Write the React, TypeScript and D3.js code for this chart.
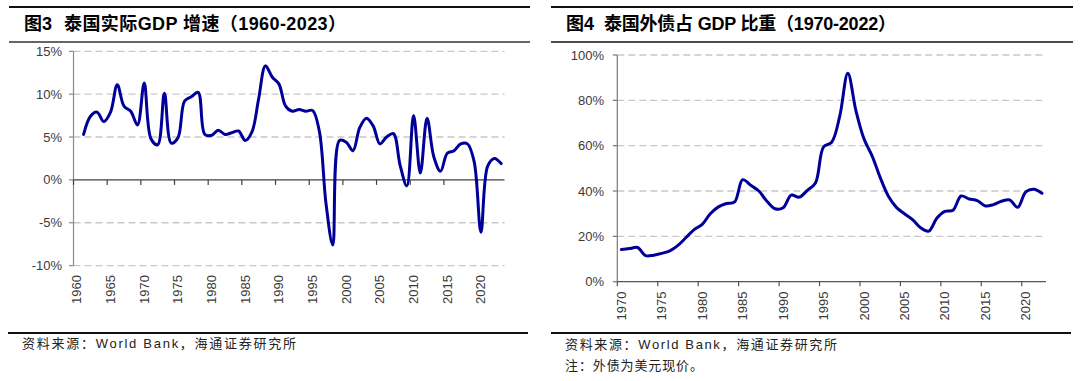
import React from "react";
import * as d3 from "d3";

// ---------- data ----------
const gdpYears: number[] = d3.range(1960, 2024);
const gdpGrowthYears: number[] = d3.range(1961, 2024);
const gdpGrowth: number[] = [
  5.3, 7.4, 7.9, 6.8, 7.9, 11.1, 8.6, 8.0, 6.4, 11.3,
  4.8, 4.1, 10.1, 4.3, 4.9, 9.2, 9.7, 10.2, 5.3, 5.2,
  5.8, 5.3, 5.5, 5.7, 4.6, 5.6, 9.5, 13.3, 12.0, 11.2,
  8.6, 8.0, 8.2, 8.0, 8.1, 5.7, -2.8, -7.6, 4.6, 4.4,
  3.4, 6.1, 7.2, 6.3, 4.2, 5.0, 5.4, 1.7, -0.7, 7.5,
  0.8, 7.2, 2.7, 1.0, 3.1, 3.4, 4.2, 4.2, 2.1, -6.1,
  1.6, 2.5, 1.9,
];
const gdpTicks: number[] = [-10, -5, 0, 5, 10, 15];

const debtYears: number[] = d3.range(1970, 2023);
const debtRatio: number[] = [
  14.2, 14.6, 15.1, 11.5, 11.7, 12.5, 13.6, 16.0, 19.5, 23.0,
  25.3, 30.0, 33.0, 34.5, 35.2, 45.0, 42.5, 40.0, 35.5, 32.2,
  32.6, 38.2, 37.3, 40.3, 43.5, 59.5, 61.5, 73.0, 92.0, 75.5,
  63.0, 55.5, 46.0, 37.8, 32.8, 30.0, 27.4, 23.8, 22.3, 28.0,
  31.0, 31.5, 37.8, 36.5, 35.8, 33.4, 34.0, 35.5, 36.1, 32.8,
  39.6, 40.8, 39.0,
];
const debtTicks: number[] = [0, 20, 40, 60, 80, 100];

const title1a = "图3";
const title1b = "泰国实际GDP 增速（1960-2023）";
const title2a = "图4";
const title2b = "泰国外债占 GDP 比重（1970-2022）";
const source = "资料来源：World Bank，海通证券研究所";
const note = "注：外债为美元现价。";

// ---------- style ----------
const FONT = "'Liberation Sans', Arial, 'Noto Sans CJK SC', sans-serif";
const LINE = "#000099";
const LABEL = "#3a3a3a";
const GRID = "#c8c8c8";

export default function App() {
  // Left chart scales
  const x1 = d3.scaleBand<number>().domain(gdpYears).range([73.5, 504.5]).padding(0);
  const y1 = d3.scaleLinear().domain([-10, 15]).range([265.6, 51.3]);
  const bw1 = x1.bandwidth();
  const line1 = d3
    .line<number>()
    .x((_, i) => (x1(gdpGrowthYears[i]) as number) + bw1 / 2)
    .y((d) => y1(d))
    .curve(d3.curveCatmullRom.alpha(0.5));

  // Right chart scales
  const x2 = d3.scaleBand<number>().domain(debtYears).range([617.3, 1046]).padding(0);
  const y2 = d3.scaleLinear().domain([0, 100]).range([281.7, 55]);
  const bw2 = x2.bandwidth();
  const line2 = d3
    .line<number>()
    .x((_, i) => (x2(debtYears[i]) as number) + bw2 / 2)
    .y((d) => y2(d))
    .curve(d3.curveCatmullRom.alpha(0.5));

  const x1Labels = gdpYears.filter((y) => y % 5 === 0);
  const x2Labels = debtYears.filter((y) => y % 5 === 0);

  return (
    <svg
      width={1080}
      height={381}
      style={{ position: "absolute", left: 0, top: 0, background: "#fff" }}
      fontFamily={FONT}
    >
      <rect x={0} y={0} width={1080} height={381} fill="#fff" />

      {/* ================= LEFT CHART ================= */}
      <line x1={9} x2={530} y1={7} y2={7} stroke="#111" strokeWidth={2} />
      <text x={24} y={30} fontSize={18} fontWeight="bold" fill="#000">
        {title1a}
      </text>
      <text x={64} y={30} fontSize={18} fontWeight="bold" fill="#000" textLength={282} lengthAdjust="spacing">
        {title1b}
      </text>
      <line x1={9} x2={530} y1={42} y2={42} stroke="#333" strokeWidth={1.5} />

      {/* gridlines */}
      {gdpTicks
        .filter((t) => t !== 0)
        .map((t) => (
          <line
            key={"g1" + t}
            x1={73.5}
            x2={504.5}
            y1={y1(t)}
            y2={y1(t)}
            stroke={GRID}
            strokeWidth={1.3}
            strokeDasharray="7,4"
          />
        ))}
      {/* y axis */}
      <line x1={73.5} x2={73.5} y1={y1(15)} y2={y1(-10)} stroke="#8a8a8a" strokeWidth={1.2} />
      {gdpTicks.map((t) => (
        <g key={"yt1" + t}>
          <line x1={69} x2={73.5} y1={y1(t)} y2={y1(t)} stroke="#8a8a8a" strokeWidth={1.2} />
          <text x={62} y={y1(t)} dy="0.35em" textAnchor="end" fontSize={13} fill={LABEL}>
            {t}%
          </text>
        </g>
      ))}
      {/* x axis at 0 */}
      <line x1={73.5} x2={504.5} y1={y1(0)} y2={y1(0)} stroke="#404040" strokeWidth={1.2} />
      {x1Labels.map((yr) => (
        <line
          key={"xt1" + yr}
          x1={x1(yr) as number}
          x2={x1(yr) as number}
          y1={y1(0)}
          y2={y1(0) + 5}
          stroke="#404040"
          strokeWidth={1.2}
        />
      ))}
      {x1Labels.map((yr) => (
        <text
          key={"xl1" + yr}
          transform={`translate(${(x1(yr) as number) + bw1 / 2},275) rotate(-90)`}
          dy="0.35em"
          textAnchor="end"
          fontSize={13}
          fill={LABEL}
        >
          {yr}
        </text>
      ))}
      <path d={line1(gdpGrowth) || ""} fill="none" stroke={LINE} strokeWidth={3} strokeLinejoin="round" strokeLinecap="round" />

      <line x1={8} x2={528} y1={333} y2={333} stroke="#111" strokeWidth={2} />
      <text x={22} y={348} fontSize={13} fill="#222" textLength={274} lengthAdjust="spacing">
        {source}
      </text>

      {/* ================= RIGHT CHART ================= */}
      <line x1={551} x2={1073} y1={7} y2={7} stroke="#111" strokeWidth={2} />
      <text x={566} y={30} fontSize={18} fontWeight="bold" fill="#000">
        {title2a}
      </text>
      <text x={604} y={30} fontSize={18} fontWeight="bold" fill="#000" textLength={292} lengthAdjust="spacing">
        {title2b}
      </text>
      <line x1={551} x2={1073} y1={42} y2={42} stroke="#111" strokeWidth={1.5} />

      {debtTicks
        .filter((t) => t !== 0)
        .map((t) => (
          <line
            key={"g2" + t}
            x1={617.3}
            x2={1046}
            y1={y2(t)}
            y2={y2(t)}
            stroke={GRID}
            strokeWidth={1.3}
            strokeDasharray="7,4"
          />
        ))}
      <line x1={617.3} x2={617.3} y1={y2(100)} y2={y2(0)} stroke="#7a7a7a" strokeWidth={1.2} />
      {debtTicks.map((t) => (
        <g key={"yt2" + t}>
          <line x1={612.8} x2={617.3} y1={y2(t)} y2={y2(t)} stroke="#7a7a7a" strokeWidth={1.2} />
          <text x={604} y={y2(t)} dy="0.35em" textAnchor="end" fontSize={13} fill={LABEL}>
            {t}%
          </text>
        </g>
      ))}
      <line x1={617.3} x2={1046} y1={y2(0)} y2={y2(0)} stroke="#555" strokeWidth={1.2} />
      {x2Labels.map((yr) => (
        <line
          key={"xt2" + yr}
          x1={x2(yr) as number}
          x2={x2(yr) as number}
          y1={y2(0)}
          y2={y2(0) + 4.5}
          stroke="#555"
          strokeWidth={1.2}
        />
      ))}
      {x2Labels.map((yr) => (
        <text
          key={"xl2" + yr}
          transform={`translate(${(x2(yr) as number) + bw2 / 2},291.5) rotate(-90)`}
          dy="0.35em"
          textAnchor="end"
          fontSize={13}
          fill={LABEL}
        >
          {yr}
        </text>
      ))}
      <path d={line2(debtRatio) || ""} fill="none" stroke={LINE} strokeWidth={3} strokeLinejoin="round" strokeLinecap="round" />

      <line x1={551} x2={1071} y1={333} y2={333} stroke="#111" strokeWidth={2} />
      <text x={565} y={349} fontSize={13} fill="#222" textLength={272} lengthAdjust="spacing">
        {source}
      </text>
      <text x={565} y={370} fontSize={13} fill="#222" textLength={138} lengthAdjust="spacing">
        {note}
      </text>
    </svg>
  );
}
